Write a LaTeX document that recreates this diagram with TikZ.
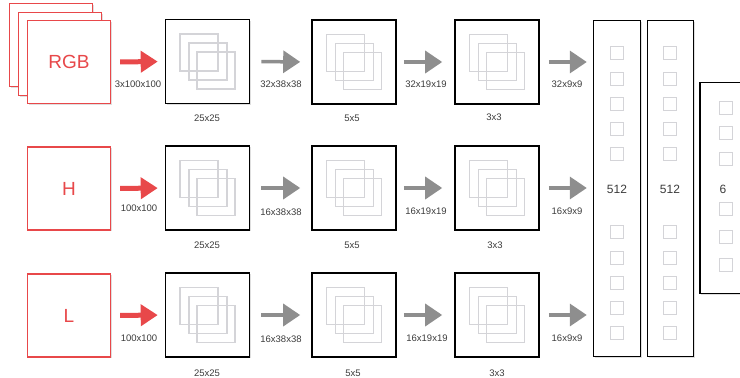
\documentclass[tikz,border=0pt]{standalone}
\usepackage{fontspec}
\setmainfont{Liberation Sans}
\usetikzlibrary{arrows.meta,shadows}
\definecolor{myred}{RGB}{232,72,74}
\definecolor{arrgray}{RGB}{142,142,142}
\definecolor{sqgray}{RGB}{212,212,216}
\definecolor{txtgray}{RGB}{60,60,60}
\newcommand\convbx[3]{%
  \node[convbox] (#1) at (#2,#3) {};
  \begin{scope}[shift={(#2,#3)}]
    \foreach \dx/\dy in {-8.5/-9,0.5/0,8.5/9}
      \draw[innersq] (\dx-19,\dy-18.5) rectangle (\dx+19,\dy+18.5);
  \end{scope}}
\begin{document}
\begin{tikzpicture}[x=1pt,y=-1pt,
  inbox/.style={draw=myred, line width=1.3pt, fill=white, minimum width=83pt, minimum height=83pt, inner sep=0pt, text=myred, font=\fontsize{19}{19}\selectfont, drop shadow={shadow xshift=1pt, shadow yshift=-1.2pt, opacity=0.25}},
  convbox/.style={draw=black, line width=1.6pt, fill=white, minimum width=84pt, minimum height=84pt, inner sep=0pt, drop shadow={shadow xshift=1pt, shadow yshift=-1.2pt, opacity=0.25}},
  fcbox/.style={draw=black, line width=1.4pt, fill=white, inner sep=0pt, drop shadow={shadow xshift=1pt, shadow yshift=-1.2pt, opacity=0.25}},
  innersq/.style={draw=sqgray, line width=1.4pt},
  fcsq/.style={draw=sqgray, line width=1.2pt},
  redarr/.style={draw=myred, line width=5pt, -{Triangle[length=17pt,width=21pt]}},
  grayarr/.style={draw=arrgray, line width=3.5pt, -{Triangle[length=17pt,width=22pt]}},
  lbl/.style={font=\fontsize{9.5}{10}\selectfont, text=txtgray, inner sep=0pt},
  fclbl/.style={font=\fontsize{12}{12}\selectfont, text=txtgray, inner sep=0pt}]
\clip (0,0) rectangle (740,378);
\useasboundingbox (0,0) rectangle (740,378);

% ---- inputs
\node[inbox] (rgbback) at (51,45) {};
\node[inbox] (rgbmid) at (60,54) {};
\node[inbox] (rgb) at (69,62) {RGB};
\node[inbox] (h) at (69,188.5) {H};
\node[inbox] (l) at (69,315.5) {L};

% ---- conv boxes
\convbx{c11}{207.5}{61.5}
\convbx{c12}{354}{62}
\convbx{c13}{497}{62}
\convbx{c21}{207.5}{188}
\convbx{c22}{354}{188}
\convbx{c23}{497}{188}
\convbx{c31}{207.5}{315}
\convbx{c32}{354}{315}
\convbx{c33}{497}{315}

% ---- fully connected
\node[fcbox, minimum width=47pt, minimum height=336pt] (fc1) at (617,188.5) {};
\node[fcbox, minimum width=46pt, minimum height=336pt] (fc2) at (670.5,188.5) {};
\node[fcbox, minimum width=50pt, minimum height=211pt] (fc3) at (725,188) {};
\foreach \y in {53,79,104,129,154,232,258,283,308,333} {
  \draw[fcsq] (617-6.5,\y-6.5) rectangle ++(13,13);
  \draw[fcsq] (670-6.5,\y-6.5) rectangle ++(13,13);
}
\foreach \y in {108,133,159,209,237,265}
  \draw[fcsq] (726-6.5,\y-6.5) rectangle ++(13,13);
\node[fclbl] (n1) at (617,189) {512};
\node[fclbl] (n2) at (670,189) {512};
\node[fclbl] (n3) at (723,189) {6};

% ---- arrows
\draw[redarr, shorten <=9pt, shorten >=7pt] (rgb.east) -- (c11.west);
\draw[redarr, shorten <=9pt, shorten >=7pt] (h.east) -- (c21.west);
\draw[redarr, shorten <=9pt, shorten >=7pt] (l.east) -- (c31.west);
\foreach \r in {1,2,3} {
  \draw[grayarr, shorten <=11pt, shorten >=11pt] (c\r1.east) -- (c\r2.west);
  \draw[grayarr, shorten <=7pt, shorten >=12pt] (c\r2.east) -- (c\r3.west);
  \draw[grayarr, shorten <=9pt, shorten >=6pt] (c\r3.east) -- (c\r3.east -| fc1.west);
}

% ---- labels
\node[lbl] (a11) at (138,84) {3x100x100};
\node[lbl] (a12) at (281,84) {32x38x38};
\node[lbl] (a13) at (426,84) {32x19x19};
\node[lbl] (a14) at (567,84) {32x9x9};
\node[lbl] (a21) at (139,208) {100x100};
\node[lbl] (a22) at (281,212) {16x38x38};
\node[lbl] (a23) at (426,211) {16x19x19};
\node[lbl] (a24) at (567,211) {16x9x9};
\node[lbl] (a31) at (139,338) {100x100};
\node[lbl] (a32) at (281,339) {16x38x38};
\node[lbl] (a33) at (427,338) {16x19x19};
\node[lbl] (a34) at (567,338) {16x9x9};

\node[lbl] (k11) at (207,118) {25x25};
\node[lbl] (k12) at (352,118) {5x5};
\node[lbl] (k13) at (494,117) {3x3};
\node[lbl] (k21) at (207,245) {25x25};
\node[lbl] (k22) at (352,245) {5x5};
\node[lbl] (k23) at (495,245) {3x3};
\node[lbl] (k31) at (207,373) {25x25};
\node[lbl] (k32) at (353,373) {5x5};
\node[lbl] (k33) at (497,373) {3x3};
\end{tikzpicture}
\end{document}
